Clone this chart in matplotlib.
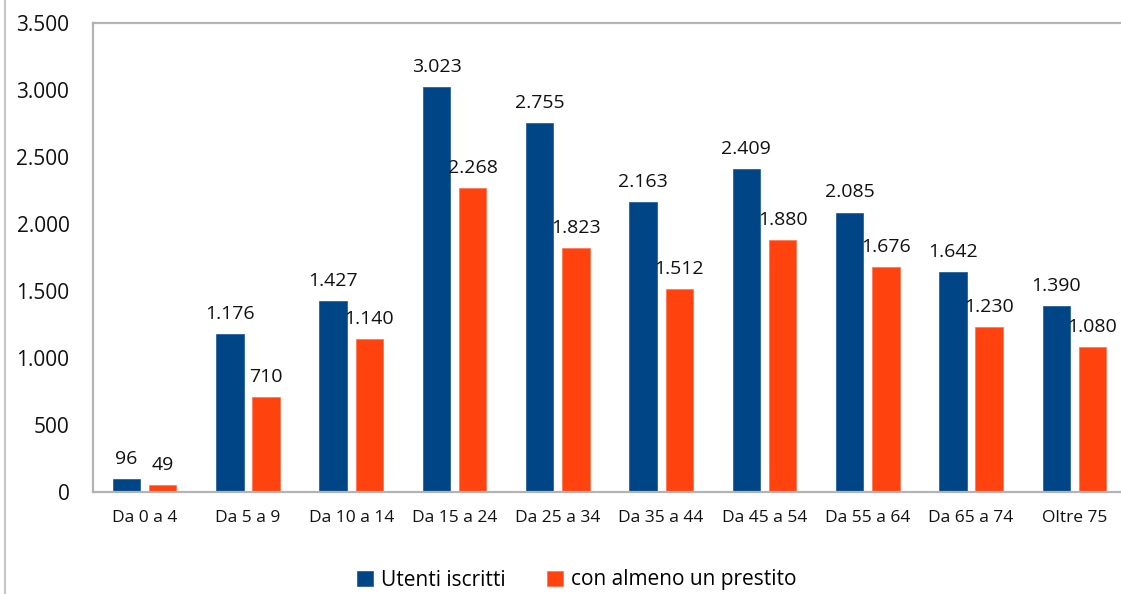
import matplotlib
matplotlib.use("Agg")
import matplotlib.pyplot as plt
from matplotlib.lines import Line2D
import numpy as np

categories = ["Da 0 a 4", "Da 5 a 9", "Da 10 a 14", "Da 15 a 24", "Da 25 a 34",
              "Da 35 a 44", "Da 45 a 54", "Da 55 a 64", "Da 65 a 74", "Oltre 75"]
utenti = [96, 1176, 1427, 3023, 2755, 2163, 2409, 2085, 1642, 1390]
prestito = [49, 710, 1140, 2268, 1823, 1512, 1880, 1676, 1230, 1080]
series_names = ["Utenti iscritti", "con almeno un prestito"]
yticks = [0, 500, 1000, 1500, 2000, 2500, 3000, 3500]

BLUE = "#004586"
ORANGE = "#FF420E"
GRAY = "#b3b3b3"

plt.rcParams['font.family'] = ['Open Sans', 'DejaVu Sans']

W, H = 1121, 594
fig = plt.figure(figsize=(W / 100, H / 100), dpi=100)
ax = fig.add_axes([93 / W, 1 - 492 / H, (1126 - 93) / W, (492 - 23) / H])

def fmt(v):
    return f"{v:,}".replace(",", ".")

x = np.arange(len(categories))
bw = 0.265
off = 0.175
b1 = ax.bar(x - off, utenti, bw, color=BLUE, edgecolor="#2a64a0", linewidth=0.6, label=series_names[0])
b2 = ax.bar(x + off, prestito, bw, color=ORANGE, edgecolor="#ff7a55", linewidth=0.6, label=series_names[1])

for bars, vals in ((b1, utenti), (b2, prestito)):
    for r, v in zip(bars, vals):
        ax.annotate(fmt(v), (r.get_x() + r.get_width() / 2, v), xytext=(0, 8),
                    textcoords="offset points", ha="center", va="bottom",
                    fontsize=14, color="#111111")

ax.set_xlim(-0.5, len(categories) - 0.5)
ax.set_ylim(0, 3500)
ax.set_yticks(yticks)
ax.set_yticklabels([fmt(v) for v in yticks], fontsize=15)
ax.set_xticks(x)
ax.set_xticklabels(categories, fontsize=12.5)
ax.tick_params(axis="y", length=0, pad=17, colors="#111111")
ax.tick_params(axis="x", length=0, pad=13, colors="#111111")

for s in ("left", "top", "bottom"):
    ax.spines[s].set_color(GRAY)
    ax.spines[s].set_linewidth(1.6)
ax.spines["right"].set_visible(False)

fig.add_artist(Line2D([4.5 / W, 4.5 / W], [0, 1], transform=fig.transFigure,
                      color="#c8c8c8", linewidth=1.6))

leg = fig.legend(handles=[b1, b2], labels=series_names, loc="center",
                 bbox_to_anchor=(577 / W, 1 - 580 / H), ncol=2, frameon=False,
                 fontsize=15, handlelength=0.75, handleheight=0.75,
                 handletextpad=0.4, columnspacing=2.0)

fig.savefig("out.png", dpi=100)
